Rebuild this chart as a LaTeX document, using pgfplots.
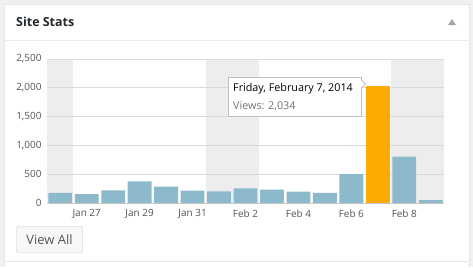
\documentclass[border=0pt]{standalone}
\usepackage{pgfplots}
\pgfplotsset{compat=1.18}
\usepackage{fontspec}
\setmainfont{Open Sans}
\definecolor{pagebg}{HTML}{F1F1F1}
\definecolor{panelborder}{HTML}{E5E5E5}
\definecolor{barblue}{HTML}{8DB9CD}
\definecolor{barorange}{HTML}{FFAA00}
\definecolor{weekend}{HTML}{EDEDED}
\definecolor{gridc}{HTML}{DADADA}
\definecolor{basec}{HTML}{C8C8C8}
\definecolor{ticktext}{HTML}{555555}
\definecolor{titletext}{HTML}{23282D}
\pgfplotstableread{
x y
0 174
1 156
2 220
3 376
4 284
5 214
6 203
7 255
8 231
9 197
10 174
11 503
13 804
14 52
}\viewsdata
\pgfplotstableread{
x y
12 2034
}\highlightdata
\begin{document}
\begin{tikzpicture}[x=1bp,y=1bp]
\fill[pagebg] (0,0) rectangle (473,267);
\fill[white] (4.5,0) rectangle (469.5,262.5);
\draw[draw=panelborder] (4.5,0) -- (4.5,262.5) -- (469.5,262.5) -- (469.5,0);
\draw[draw=panelborder!70] (5,227) -- (469,227);
\draw[draw=panelborder] (6,5.5) -- (468,5.5);
\node[anchor=west,inner sep=0pt,text=titletext,font=\fontsize{12.5}{14}\selectfont\bfseries] at (16,245) {Site Stats};
\fill[black!35] (448,242) -- (456,242) -- (452,248) -- cycle;
% View All button
\filldraw[fill=black!3,draw=black!22,rounded corners=2bp] (16.5,14.5) rectangle (82.5,40.5);
\node[text=ticktext,font=\fontsize{13}{15}\selectfont] at (49.5,27.5) {View All};
\begin{axis}[
  at={(47bp,64bp)}, anchor=south west,
  width=397bp, height=144bp, scale only axis,
  xmin=-0.5, xmax=14.5, ymin=0, ymax=2500,
  axis line style={draw=none},
  major tick length=0pt,
  ytick={0,500,1000,1500,2000,2500},
  xtick={1,3,5,7,9,11,13},
  xticklabels={Jan 27,Jan 29,Jan 31,Feb 2,Feb 4,Feb 6,Feb 8},
  /pgf/number format/assume math mode=true,
  /pgf/number format/1000 sep={,},
  tick label style={text=ticktext, font=\fontsize{10}{11}\selectfont},
  yticklabel style={xshift=-2bp},
  xticklabel style={yshift=-3bp},
  clip=false,
]
\addplot[fill=weekend, draw=none] coordinates {(-0.5,0) (-0.5,2500) (0.5,2500) (0.5,0)} -- cycle;
\addplot[fill=weekend, draw=none] coordinates {(5.5,0) (5.5,2500) (7.5,2500) (7.5,0)} -- cycle;
\addplot[fill=weekend, draw=none] coordinates {(12.5,0) (12.5,2500) (14.5,2500) (14.5,0)} -- cycle;
\addplot[gridc, line width=0.8pt] coordinates {(-0.5,500) (14.5,500)};
\addplot[gridc, line width=0.8pt] coordinates {(-0.5,1000) (14.5,1000)};
\addplot[gridc, line width=0.8pt] coordinates {(-0.5,1500) (14.5,1500)};
\addplot[gridc, line width=0.8pt] coordinates {(-0.5,2000) (14.5,2000)};
\addplot[gridc, line width=0.8pt] coordinates {(-0.5,2500) (14.5,2500)};
\addplot[ybar, bar shift=0pt, bar width=0.9, fill=barblue, draw=none] table[x=x,y=y] {\viewsdata};
\addplot[ybar, bar shift=0pt, bar width=0.9, fill=barorange, draw=none] table[x=x,y=y] {\highlightdata};
\addplot[basec, line width=1pt] coordinates {(-0.5,0) (14.5,0)};
\end{axis}
% tooltip
\filldraw[fill=white,draw=black!25,line width=0.8pt] (228.5,150.5) -- (228.5,189.5) -- (361.5,189.5) -- (361.5,187) -- (365.5,183) -- (361.5,179) -- (361.5,150.5) -- cycle;
\node[anchor=west,inner sep=0pt,text=black,font=\fontsize{10.8}{12}\selectfont] at (233,178) {Friday, February 7, 2014};
\node[anchor=west,inner sep=0pt,text=black!55,font=\fontsize{10.8}{12}\selectfont] at (233,161) {Views: 2,034};
\end{tikzpicture}
\end{document}
